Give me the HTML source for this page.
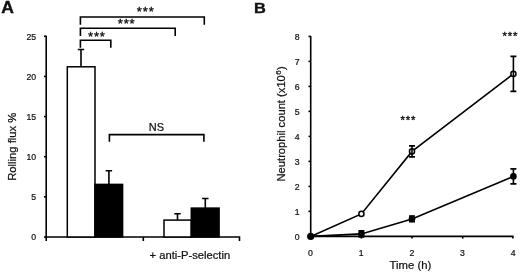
<!DOCTYPE html>
<html><head><meta charset="utf-8"><title>Figure</title>
<style>
html,body{margin:0;padding:0;background:#fff;}
svg{display:block;}
text{font-family:"Liberation Sans",sans-serif;fill:#111;stroke:#111;stroke-width:0.22;}
.ln{stroke:#000;stroke-width:1.6;fill:none;}
.tk{font-size:8.7px;}
.lb{font-size:11px;}
.st{stroke:#111;stroke-width:0.35;}
</style></head><body>
<svg width="520" height="274" viewBox="0 0 520 274">
<rect width="520" height="274" fill="#fff"/>

<text transform="translate(1.3 12.9) scale(1.11 1)" font-size="15.8" font-weight="bold" style="stroke-width:0.35px">A</text>
<text transform="translate(253.9 12.9) scale(1.07 1)" font-size="15.3" font-weight="bold" style="stroke-width:0.35px">B</text>
<path class="ln" d="M46.2 35.75000000000003V241"/>
<path class="ln" d="M45.5 237.0H239.5V241"/>
<path class="ln" d="M143.3 237.0V241"/>
<path class="ln" d="M44.0 237.0H46.2"/>
<text class="tk" x="36.1" y="240.35" text-anchor="end">0</text>
<path class="ln" d="M44.0 196.85H46.2"/>
<text class="tk" x="36.1" y="200.20" text-anchor="end">5</text>
<path class="ln" d="M44.0 156.7H46.2"/>
<text class="tk" x="36.1" y="160.05" text-anchor="end">10</text>
<path class="ln" d="M44.0 116.55000000000001H46.2"/>
<text class="tk" x="36.1" y="119.90" text-anchor="end">15</text>
<path class="ln" d="M44.0 76.4H46.2"/>
<text class="tk" x="36.1" y="79.75" text-anchor="end">20</text>
<path class="ln" d="M44.0 36.25000000000003H46.2"/>
<text class="tk" x="36.1" y="39.60" text-anchor="end">25</text>
<text class="lb" style="font-size:11.25px" transform="translate(16.0 180.8) rotate(-90)">Rolling flux %</text>
<rect x="67.3" y="66.8" width="27.700000000000003" height="170.2" fill="#fff" stroke="#000" stroke-width="1.5"/>
<path class="ln" d="M81.0 66.8V49.5M77.8 49.5H84.2"/>
<rect x="95.0" y="184.4" width="27.599999999999994" height="52.6" fill="#000" stroke="#000" stroke-width="1.5"/>
<path class="ln" d="M108.9 184.4V170.8M105.7 170.8H112.10000000000001"/>
<rect x="164.0" y="220.1" width="27.30000000000001" height="16.9" fill="#fff" stroke="#000" stroke-width="1.5"/>
<path class="ln" d="M177.5 220.1V213.7M174.3 213.7H180.7"/>
<rect x="191.3" y="208.1" width="27.799999999999983" height="28.9" fill="#000" stroke="#000" stroke-width="1.5"/>
<path class="ln" d="M205.3 208.1V198.5M202.10000000000002 198.5H208.5"/>
<path class="ln" d="M80.4 24.8V17.0H204.3V24.8"/>
<path class="ln" d="M80.4 36.1V28.3H175.2V36.1"/>
<path class="ln" d="M80.4 47.800000000000004V40.2H110.8V47.800000000000004"/>
<path class="ln" d="M109.4 141.79999999999998V134.6H203.9V141.79999999999998"/>
<text class="st" x="145.72500000000002" y="16.20" font-size="13" text-anchor="middle" letter-spacing="0.85">***</text>
<text class="st" x="126.625" y="27.60" font-size="13" text-anchor="middle" letter-spacing="0.85">***</text>
<text class="st" x="96.925" y="40.80" font-size="13" text-anchor="middle" letter-spacing="0.85">***</text>
<text class="lb" x="156.4" y="131" text-anchor="middle">NS</text>
<text class="lb" style="font-size:11.2px" x="149.6" y="259.4">+ anti-P-selectin</text>
<path class="ln" d="M310.7 35.900000000000006V236.4"/>
<path class="ln" d="M310.7 236.4H512.9V238.6"/>
<path class="ln" d="M308.5 236.4H310.7"/>
<text class="tk" x="299.6" y="239.8" text-anchor="end">0</text>
<path class="ln" d="M308.5 211.4H310.7"/>
<text class="tk" x="299.6" y="214.8" text-anchor="end">1</text>
<path class="ln" d="M308.5 186.4H310.7"/>
<text class="tk" x="299.6" y="189.8" text-anchor="end">2</text>
<path class="ln" d="M308.5 161.4H310.7"/>
<text class="tk" x="299.6" y="164.8" text-anchor="end">3</text>
<path class="ln" d="M308.5 136.4H310.7"/>
<text class="tk" x="299.6" y="139.8" text-anchor="end">4</text>
<path class="ln" d="M308.5 111.4H310.7"/>
<text class="tk" x="299.6" y="114.8" text-anchor="end">5</text>
<path class="ln" d="M308.5 86.4H310.7"/>
<text class="tk" x="299.6" y="89.8" text-anchor="end">6</text>
<path class="ln" d="M308.5 61.400000000000006H310.7"/>
<text class="tk" x="299.6" y="64.8" text-anchor="end">7</text>
<path class="ln" d="M308.5 36.400000000000006H310.7"/>
<text class="tk" x="299.6" y="39.8" text-anchor="end">8</text>
<path class="ln" d="M310.7 236.4V238.6"/>
<text class="tk" x="310.5" y="255.5" text-anchor="middle">0</text>
<path class="ln" d="M361.4 236.4V238.6"/>
<text class="tk" x="361.2" y="255.5" text-anchor="middle">1</text>
<path class="ln" d="M412.0 236.4V238.6"/>
<text class="tk" x="411.8" y="255.5" text-anchor="middle">2</text>
<path class="ln" d="M462.7 236.4V238.6"/>
<text class="tk" x="462.5" y="255.5" text-anchor="middle">3</text>
<text class="tk" x="513.2" y="255.5" text-anchor="middle">4</text>
<text class="lb" style="font-size:11.2px" transform="translate(285.4 181.5) rotate(-90)">Neutrophil count (x10<tspan style="font-size:8px" dx="0.3" dy="-4.1">6</tspan><tspan dx="0.5" dy="4.1">)</tspan></text>
<text class="lb" style="font-size:11.3px" x="389.6" y="269.4">Time (h)</text>
<polyline class="ln" stroke-width="1.5" points="310.7,236.4 361.4,213.9 412.0,151.4 513.4,73.9"/>
<polyline class="ln" stroke-width="1.5" points="310.7,236.4 361.4,233.9 412.0,218.9 513.4,176.4"/>
<path class="ln" stroke-width="1.3" d="M412.0 156.9V145.9M409.0 156.9H415.0M409.0 145.9H415.0"/>
<path class="ln" stroke-width="1.3" d="M513.4 91.4V56.4M510.4 91.4H516.4M510.4 56.4H516.4"/>
<path class="ln" stroke-width="1.3" d="M361.4 236.9V230.9M358.4 236.9H364.4M358.4 230.9H364.4"/>
<path class="ln" stroke-width="1.3" d="M412.0 221.8V216.0M409.0 221.8H415.0M409.0 216.0H415.0"/>
<path class="ln" stroke-width="1.3" d="M513.4 183.9V168.9M510.4 183.9H516.4M510.4 168.9H516.4"/>
<circle cx="361.4" cy="213.9" r="2.55" fill="#fff" stroke="#000" stroke-width="1.5"/>
<circle cx="412.0" cy="151.4" r="2.55" fill="#fff" stroke="#000" stroke-width="1.5"/>
<circle cx="513.4" cy="73.9" r="2.55" fill="#fff" stroke="#000" stroke-width="1.5"/>
<path class="ln" stroke-width="1.1" d="M412.0 148.9V153.9"/>
<path class="ln" stroke-width="1.1" d="M513.4 71.4V76.4"/>
<circle cx="310.7" cy="236.4" r="3.6" fill="#000"/>
<circle cx="361.4" cy="233.9" r="3.3" fill="#000"/>
<circle cx="412.0" cy="218.9" r="3.3" fill="#000"/>
<circle cx="513.4" cy="176.4" r="3.3" fill="#000"/>
<text class="st" x="408.4" y="124.35" font-size="11.3" text-anchor="middle" letter-spacing="0.8">***</text>
<text class="st" x="510.29999999999995" y="39.75" font-size="11.3" text-anchor="middle" letter-spacing="0.8">***</text>
</svg></body></html>
